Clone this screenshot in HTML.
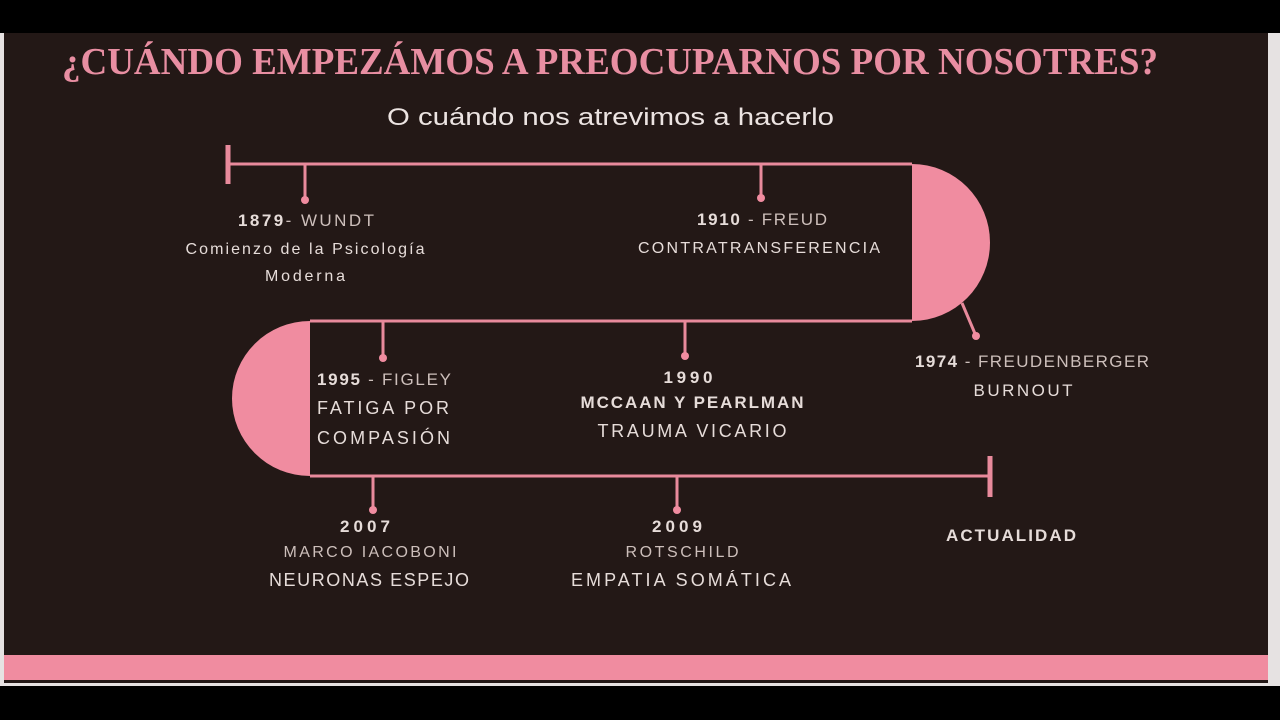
<!DOCTYPE html>
<html><head><meta charset="utf-8"><style>
html,body{margin:0;padding:0;background:#000;width:1280px;height:720px;overflow:hidden}
svg{display:block}
</style></head><body>
<svg width="1280" height="720" viewBox="0 0 1280 720" xmlns="http://www.w3.org/2000/svg">
<rect x="0" y="0" width="1280" height="720" fill="#000"/>
<rect x="0" y="33" width="1280" height="653" fill="#e6e2e2"/>
<rect x="4" y="33" width="1264" height="650" fill="#231816"/>
<rect x="4" y="655" width="1264" height="25" fill="#f08ca0"/>
<text x="62" y="74" font-family="Liberation Serif, serif" font-weight="bold" font-size="38" fill="#e88ea2" textLength="1096" lengthAdjust="spacingAndGlyphs">¿CUÁNDO EMPEZÁMOS A PREOCUPARNOS POR NOSOTRES?</text>
<text x="387" y="125" font-family="Liberation Sans, sans-serif" font-size="24" fill="#ece4e2" textLength="447" lengthAdjust="spacingAndGlyphs">O cuándo nos atrevimos a hacerlo</text>
<g stroke="#e88a9c" stroke-width="3" fill="none">
<line x1="228" y1="164" x2="912" y2="164"/>
<line x1="228" y1="145" x2="228" y2="184" stroke-width="5"/>
<line x1="310" y1="321" x2="912" y2="321"/>
<line x1="310" y1="476" x2="990" y2="476"/>
<line x1="990" y1="456" x2="990" y2="497" stroke-width="5"/>
<line x1="305" y1="164" x2="305" y2="200"/>
<line x1="761" y1="164" x2="761" y2="198"/>
<line x1="383" y1="321" x2="383" y2="358"/>
<line x1="685" y1="321" x2="685" y2="356"/>
<line x1="373" y1="476" x2="373" y2="510"/>
<line x1="677" y1="476" x2="677" y2="510"/>
<line x1="962" y1="303" x2="976" y2="336"/>
</g>
<g fill="#f08ca0">
<path d="M912 164 A78 78.5 0 0 1 912 321 Z"/>
<path d="M310 321 A78 77.5 0 0 0 310 476 Z"/>
<circle cx="305" cy="200" r="4"/><circle cx="761" cy="198" r="4"/>
<circle cx="383" cy="358" r="4"/><circle cx="685" cy="356" r="4"/>
<circle cx="373" cy="510" r="4"/><circle cx="677" cy="510" r="4"/>
<circle cx="976" cy="336" r="4"/>
</g>
<g font-family="Liberation Sans, sans-serif" fill="#e6dcd9" lengthAdjust="spacing">
<text x="238" y="226" font-size="17" textLength="136"><tspan font-weight="bold">1879</tspan><tspan fill="#cdbfbb">- WUNDT</tspan></text>
<text x="305" y="254" font-size="16" text-anchor="middle" textLength="239">Comienzo de la Psicología</text>
<text x="305" y="281" font-size="16" text-anchor="middle" textLength="80">Moderna</text>
<text x="697" y="225" font-size="17" textLength="130"><tspan font-weight="bold">1910</tspan><tspan fill="#cdbfbb"> - FREUD</tspan></text>
<text x="759" y="253" font-size="16" text-anchor="middle" textLength="242">CONTRATRANSFERENCIA</text>
<text x="915" y="367" font-size="17" textLength="234"><tspan font-weight="bold">1974</tspan><tspan fill="#cdbfbb"> - FREUDENBERGER</tspan></text>
<text x="1023" y="396" font-size="17" text-anchor="middle" textLength="99">BURNOUT</text>
<text x="317" y="385" font-size="17" textLength="134"><tspan font-weight="bold">1995</tspan><tspan fill="#cdbfbb"> - FIGLEY</tspan></text>
<text x="317" y="414" font-size="18" textLength="132">FATIGA POR</text>
<text x="317" y="444" font-size="18" textLength="133">COMPASIÓN</text>
<text x="688" y="383" font-size="17" font-weight="bold" text-anchor="middle" textLength="49">1990</text>
<text x="692" y="408" font-size="17" font-weight="bold" text-anchor="middle" textLength="223">MCCAAN Y PEARLMAN</text>
<text x="692" y="437" font-size="18" text-anchor="middle" textLength="189">TRAUMA VICARIO</text>
<text x="365" y="532" font-size="17" font-weight="bold" text-anchor="middle" textLength="50">2007</text>
<text x="370" y="557" font-size="16" fill="#cdbfbb" text-anchor="middle" textLength="173">MARCO IACOBONI</text>
<text x="369" y="586" font-size="18" text-anchor="middle" textLength="200">NEURONAS ESPEJO</text>
<text x="677" y="532" font-size="17" font-weight="bold" text-anchor="middle" textLength="50">2009</text>
<text x="682" y="557" font-size="16" fill="#cdbfbb" text-anchor="middle" textLength="113">ROTSCHILD</text>
<text x="681" y="586" font-size="18" text-anchor="middle" textLength="220">EMPATIA SOMÁTICA</text>
<text x="1011" y="541" font-size="17" font-weight="bold" text-anchor="middle" textLength="130">ACTUALIDAD</text>
</g>
</svg>
</body></html>
